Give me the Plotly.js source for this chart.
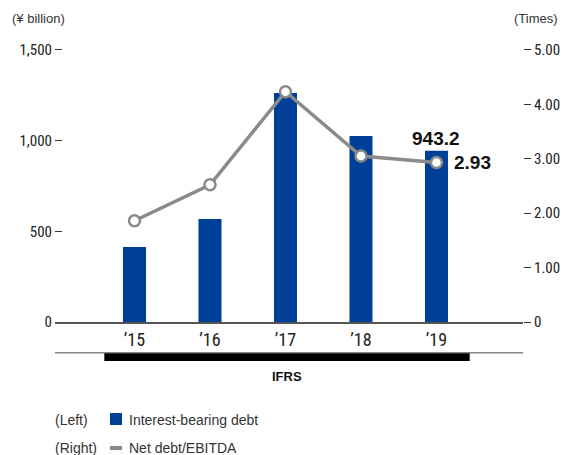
<!DOCTYPE html>
<html>
<head>
<meta charset="utf-8">
<script src="https://cdn.plot.ly/plotly-3.0.1.min.js"></script>
<style>html,body{margin:0;padding:0;background:#fff}#chart{width:563px;height:455px}</style>
</head>
<body>
<div id="chart"></div>
<script>
const years = ["’15", "’16", "’17", "’18", "’19"];
const debt = [413, 568, 1262, 1025, 943.2];
const ratio = [1.86, 2.52, 4.23, 3.05, 2.93];
const leftTicks = [0, 500, 1000, 1500];
const leftTickText = ["0", "500", "1,000", "1,500"];
const rightTicks = [0, 1, 2, 3, 4, 5];
const rightTickText = ["0", "1.00", "2.00", "3.00", "4.00", "5.00"];
const debtLabel = "943.2";
const ratioLabel = "2.93";

const narrow = "'Liberation Sans Narrow', 'Roboto Condensed', 'Arial Narrow', sans-serif";
const sans = "'Liberation Sans', Arial, sans-serif";
const xIdx = years.map((_, i) => i);
const H = 274;

const traces = [
  {type: 'bar', x: xIdx, y: debt, width: 0.305, marker: {color: '#003f98'}, yaxis: 'y', hoverinfo: 'skip', showlegend: false},
  {type: 'scatter', mode: 'lines+markers', x: xIdx, y: ratio, yaxis: 'y2',
   line: {color: '#8a8a8a', width: 3.5},
   marker: {size: 11, color: '#ffffff', line: {color: '#8a8a8a', width: 2.5}},
   cliponaxis: false, hoverinfo: 'skip', showlegend: false}
];

const layout = {
  width: 563, height: 455,
  margin: {l: 55, r: 40, t: 48, b: 133},
  paper_bgcolor: '#fff', plot_bgcolor: '#fff',
  showlegend: false,
  xaxis: {
    range: [-1.053, 5.146], tickvals: xIdx, ticktext: years,
    showgrid: false, zeroline: false, showline: true, linecolor: '#555', linewidth: 1.5,
    ticks: 'outside', ticklen: 1, tickcolor: 'rgba(0,0,0,0)',
    tickfont: {family: narrow, size: 18, color: '#222'}, fixedrange: true
  },
  yaxis: {
    range: [0, 1510], tickvals: leftTicks, ticktext: leftTickText,
    showgrid: false, zeroline: false, showline: false,
    ticks: 'inside', ticklen: 7, tickcolor: '#333', tickwidth: 1, ticklabelstandoff: 2,
    tickfont: {family: narrow, size: 15, color: '#222'}, fixedrange: true
  },
  yaxis2: {
    range: [0, 5.0333], tickvals: rightTicks, ticktext: rightTickText,
    overlaying: 'y', side: 'right',
    showgrid: false, zeroline: false, showline: false,
    ticks: 'outside', ticklen: 7, tickcolor: '#333', tickwidth: 1,
    tickfont: {family: narrow, size: 15, color: '#222'}, fixedrange: true
  },
  shapes: [
    {type: 'line', xref: 'paper', yref: 'paper', x0: 0, x1: 1, y0: -30.7/H, y1: -30.7/H, line: {color: '#888', width: 1.5}},
    {type: 'rect', xref: 'x', yref: 'paper', x0: -0.40, x1: 4.44, y0: -31.3/H, y1: -39/H, fillcolor: '#000', line: {width: 0}},
    {type: 'rect', xref: 'paper', yref: 'paper', x0: 55/468, x1: 67/468, y0: -(413-322)/H, y1: -(425-322)/H, fillcolor: '#003f98', line: {width: 0}},
    {type: 'line', xref: 'paper', yref: 'paper', x0: 55/468, x1: 67/468, y0: -(448-322)/H, y1: -(448-322)/H, line: {color: '#8a8a8a', width: 4}}
  ],
  annotations: [
    {text: '(¥ billion)', xref: 'paper', yref: 'paper', x: -45/468, y: (322-18)/H, xanchor: 'left', yanchor: 'middle', showarrow: false, font: {family: sans, size: 13, color: '#333'}},
    {text: '(Times)', xref: 'paper', yref: 'paper', x: (560-55)/468, y: (322-18)/H, xanchor: 'right', yanchor: 'middle', showarrow: false, font: {family: sans, size: 13, color: '#333'}},
    {text: '<b>IFRS</b>', xref: 'x', yref: 'paper', x: 2.02, y: -(376-322)/H, xanchor: 'center', yanchor: 'middle', showarrow: false, font: {family: sans, size: 13, color: '#111'}},
    {text: '<b>' + debtLabel + '</b>', xref: 'x', yref: 'y', x: 4, y: debt[4], xanchor: 'center', yanchor: 'bottom', yshift: 0, showarrow: false, font: {family: sans, size: 19, color: '#111'}},
    {text: '<b>' + ratioLabel + '</b>', xref: 'x', yref: 'y2', x: 4, y: ratio[4], xanchor: 'left', yanchor: 'middle', xshift: 16, showarrow: false, font: {family: sans, size: 19, color: '#111'}},
    {text: '(Left)', xref: 'paper', yref: 'paper', x: (53-55)/468, y: -(420-322)/H, xanchor: 'left', yanchor: 'middle', showarrow: false, font: {family: sans, size: 14, color: '#333'}},
    {text: 'Interest-bearing debt', xref: 'paper', yref: 'paper', x: (127-55)/468, y: -(420-322)/H, xanchor: 'left', yanchor: 'middle', showarrow: false, font: {family: sans, size: 14, color: '#333'}},
    {text: '(Right)', xref: 'paper', yref: 'paper', x: (53-55)/468, y: -(448-322)/H, xanchor: 'left', yanchor: 'middle', showarrow: false, font: {family: sans, size: 14, color: '#333'}},
    {text: 'Net debt/EBITDA', xref: 'paper', yref: 'paper', x: (127-55)/468, y: -(448-322)/H, xanchor: 'left', yanchor: 'middle', showarrow: false, font: {family: sans, size: 14, color: '#333'}}
  ]
};

Plotly.newPlot('chart', traces, layout, {displayModeBar: false, staticPlot: true});
</script>
</body>
</html>
